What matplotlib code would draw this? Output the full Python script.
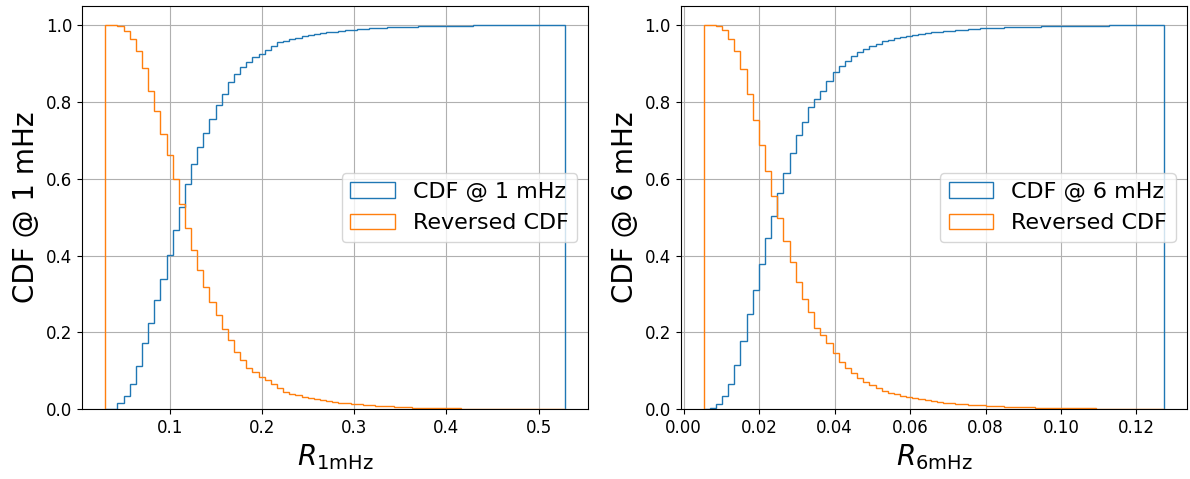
import numpy as np
import matplotlib
matplotlib.use("Agg")
import matplotlib.pyplot as plt

# histogram range and bin counts (per 10000 samples), 75 bins each
r1_range = (0.030, 0.529)
r1_counts = [3, 10, 150, 190, 310, 450, 610, 520, 590, 550,
             620, 650, 620, 580, 530, 450, 370, 350, 360, 290,
             320, 200, 200, 120, 120, 90, 100, 100, 100, 50,
             35, 40, 35, 30, 30, 25, 22, 18, 16, 15,
             14, 13, 11, 10, 10, 9, 8, 7, 6, 6,
             5, 4, 4, 3, 3, 3, 2, 2, 2, 2,
             2, 1, 1, 1, 1, 1, 0, 1, 0, 1,
             0, 0, 0, 0, 1]

r6_range = (0.0053, 0.1273)
r6_counts = [3, 27, 100, 220, 310, 490, 630, 690, 640, 680,
             660, 580, 590, 540, 520, 450, 340, 410, 200, 210,
             260, 220, 160, 140, 130, 100, 85, 75, 60, 60,
             40, 35, 33, 30, 27, 25, 22, 20, 18, 16,
             15, 13, 12, 11, 10, 9, 8, 7, 7, 6,
             5, 5, 4, 4, 3, 3, 3, 3, 3, 2,
             2, 2, 2, 2, 2, 1, 2, 1, 1, 1,
             1, 1, 1, 1, 1]

panels = [
    (r1_range, r1_counts, "CDF @ 1 mHz", r"$R_{\mathrm{1mHz}}$"),
    (r6_range, r6_counts, "CDF @ 6 mHz", r"$R_{\mathrm{6mHz}}$"),
]

fig, axes = plt.subplots(1, 2, figsize=(11.9, 4.79), dpi=100)
fig.subplots_adjust(left=0.069, right=0.9975, bottom=0.146, top=0.9875, wspace=0.182)

for ax, (rng, counts, label, xlab) in zip(axes, panels):
    edges = np.linspace(rng[0], rng[1], len(counts) + 1)
    centers = (edges[:-1] + edges[1:]) / 2
    ax.hist(centers, bins=edges, weights=counts, density=True, cumulative=True,
            histtype="step", label=label)
    ax.hist(centers, bins=edges, weights=counts, density=True, cumulative=-1,
            histtype="step", label="Reversed CDF")
    ax.grid(True)
    ax.set_ylabel(label, fontsize=20)
    ax.set_xlabel(xlab, fontsize=20)
    ax.tick_params(labelsize=12)
    ax.legend(loc="center right", fontsize=16)

plt.savefig("out.png", dpi=100)
